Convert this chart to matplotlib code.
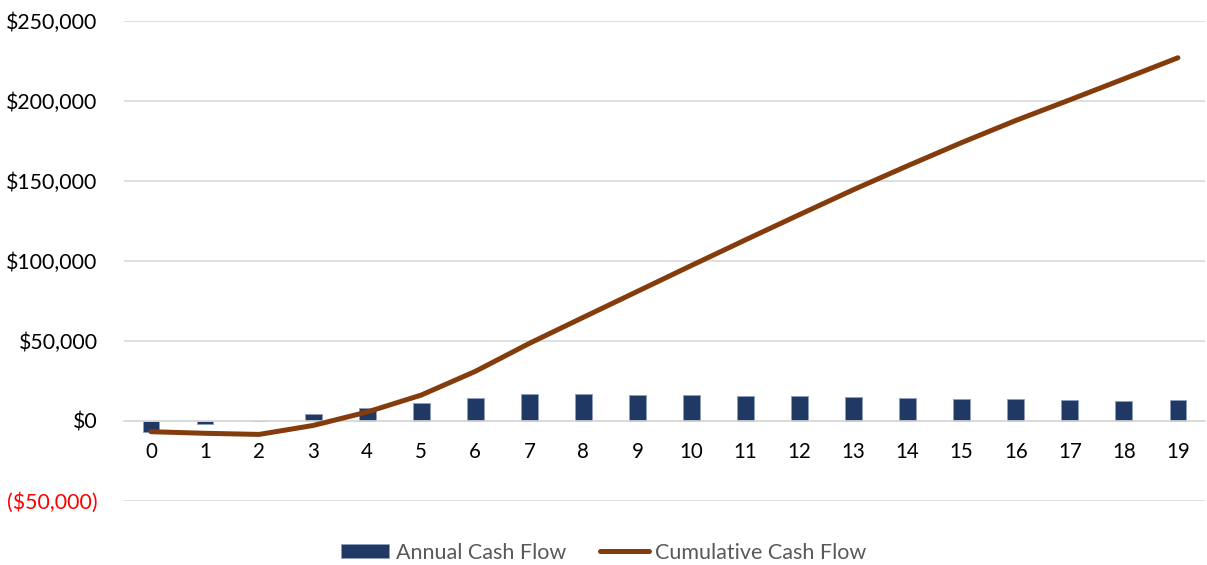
import matplotlib.pyplot as plt
from matplotlib.ticker import FuncFormatter

# data
years = list(range(20))
annual = [-6700, -1700, -300, 4400, 7900, 11200, 14100, 16800, 16600, 16200,
          16000, 15600, 15400, 15000, 14300, 13900, 13500, 12900, 12600, 12900]
cumulative = [-6700, -7700, -8400, -2800, 5600, 16200, 31000, 48500, 64800, 81000,
              97200, 113200, 129000, 144600, 159500, 174000, 187800, 200700, 213800, 227000]
y_ticks = [-50000, 0, 50000, 100000, 150000, 200000, 250000]

plt.rcParams['font.family'] = ['Lato', 'DejaVu Sans']

fig = plt.figure(figsize=(12.07, 5.65), dpi=100)
ax = fig.add_axes([0.1027, 0.1133, 0.8956, 0.8496])

bars = ax.bar(years, annual, width=0.31, color='#1F3864', edgecolor='#8EA0BE',
              linewidth=0.7, label='Annual Cash Flow', zorder=2)
line, = ax.plot(years, cumulative, color='#843C0C', lw=3.6, solid_capstyle='round',
                label='Cumulative Cash Flow', zorder=3)

ax.set_xlim(-0.5, 19.5)
ax.set_ylim(-50000, 250000)
ax.set_yticks(y_ticks)


def money(v, pos):
    if v < 0:
        return '(${:,.0f})'.format(-v)
    return '${:,.0f}'.format(v)


ax.yaxis.set_major_formatter(FuncFormatter(money))
ax.grid(axis='y', color='#D9D9D9', lw=1.2, zorder=0)
ax.set_axisbelow(True)
for s in ['top', 'right', 'left']:
    ax.spines[s].set_visible(False)
ax.spines['bottom'].set_position(('data', 0))
ax.spines['bottom'].set_color('#D9D9D9')
ax.spines['bottom'].set_linewidth(1.2)

ax.set_xticks(years)
ax.tick_params(axis='x', length=0, pad=15, labelsize=14.8)
ax.tick_params(axis='y', length=0, pad=19, labelsize=15.3)
for lab in ax.get_yticklabels():
    if lab.get_text().startswith('('):
        lab.set_color('#FF0000')

fig.legend([bars, line], ['Annual Cash Flow', 'Cumulative Cash Flow'],
           loc='center', bbox_to_anchor=(0.5, 0.022), ncol=2, frameon=False,
           fontsize=15.5, labelcolor='#595959', handlelength=2.25,
           handleheight=0.65, handletextpad=0.3, columnspacing=1.6)

plt.savefig('out.png', dpi=100)
